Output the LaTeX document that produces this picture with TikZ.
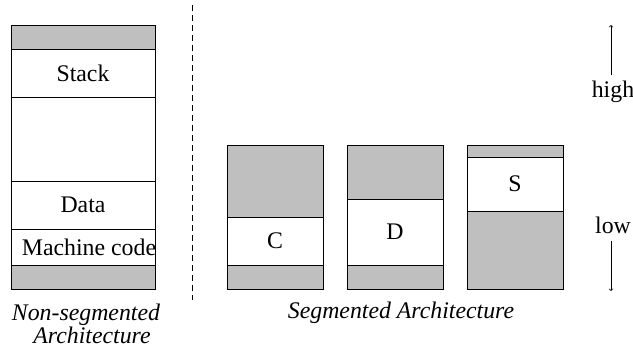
\documentclass[tikz,border=0pt]{standalone}
\usepackage{fontspec}
\setmainfont{Liberation Serif}
\begin{document}
\begin{tikzpicture}[x=1pt,y=-1pt,
  seg/.style={draw=black,line width=0.9pt,inner sep=0pt,outer sep=0pt,anchor=north west,
    font=\fontsize{23.8}{26}\selectfont},
  used/.style={seg,fill=white},
  gap/.style={seg,fill=black!25},
  lbl/.style={font=\fontsize{23.8}{26}\selectfont},
  captext/.style={font=\fontsize{23.8}{21}\selectfont\itshape,align=center}]
\useasboundingbox (0,0) rectangle (633,349);

% non-segmented address space
\node[gap,minimum width=144pt,minimum height=24pt] (n0) at (11,25) {};
\node[used,minimum width=144pt,minimum height=48pt] (n1) at (11,49) {Stack};
\node[used,minimum width=144pt,minimum height=84pt] (n2) at (11,97) {};
\node[used,minimum width=144pt,minimum height=48pt] (n3) at (11,181) {Data};
\node[used,minimum width=144pt,minimum height=36pt] (n4) at (11,229) {};
\node[lbl,inner sep=0pt] (mc) at (89,247) {Machine code};
\node[gap,minimum width=144pt,minimum height=24pt] (n5) at (11,265) {};

% separator
\coordinate (dtop) at (192,5);
\coordinate (dbot) at (192,300);
\draw[line width=0.9pt,dash pattern=on 6pt off 4pt] (dtop) -- (dbot);

% code segment
\node[gap,minimum width=96pt,minimum height=72pt] (c0) at (227,145) {};
\node[used,minimum width=96pt,minimum height=48pt] (c1) at (227,217) {C};
\node[gap,minimum width=96pt,minimum height=24pt] (c2) at (227,265) {};

% data segment
\node[gap,minimum width=96pt,minimum height=54pt] (d0) at (347,145) {};
\node[used,minimum width=96pt,minimum height=66pt] (d1) at (347,199) {D};
\node[gap,minimum width=96pt,minimum height=24pt] (d2) at (347,265) {};

% stack segment
\node[gap,minimum width=96pt,minimum height=12pt] (s0) at (467,145) {};
\node[used,minimum width=96pt,minimum height=54pt] (s1) at (467,157) {S};
\node[gap,minimum width=96pt,minimum height=78pt] (s2) at (467,211) {};

% address direction
\node[lbl] (high) at (613,92) {high};
\node[lbl] (low) at (613,225) {low};
\coordinate (hightip) at (611,25);
\coordinate (lowtip) at (611,291);
\draw[->,line width=0.7pt] (611,75) -- (hightip);
\draw[->,line width=0.7pt] (611,241) -- (lowtip);

% captions
\node[captext] (capn) at (86,324) {Non-segmented\\\hspace*{12pt}Architecture};
\node[captext] (caps) at (401,313) {Segmented Architecture};
\end{tikzpicture}
\end{document}
